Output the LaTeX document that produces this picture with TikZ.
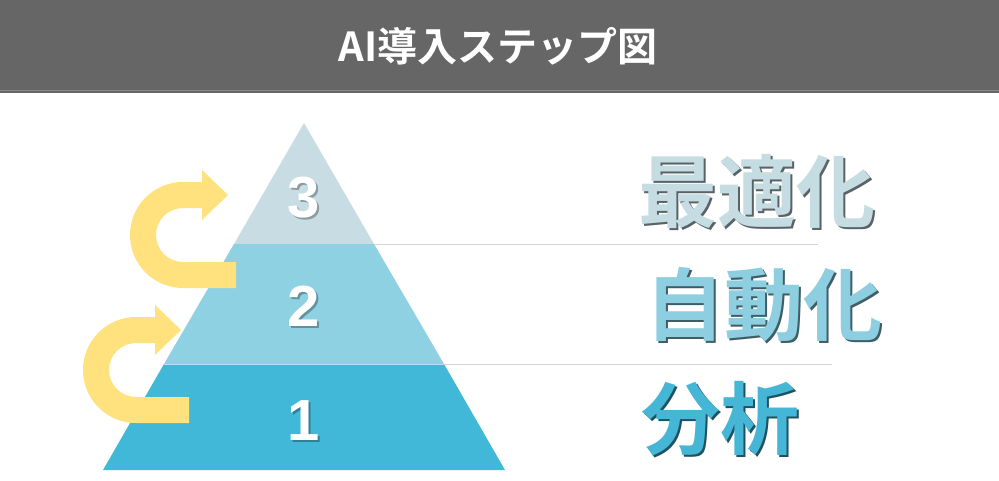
\documentclass[tikz,border=0pt]{standalone}
\usepackage{fontspec}
\setmainfont{Liberation Sans}
\newfontfamily\cjk{Noto Sans CJK JP}[BoldFont={Noto Sans CJK JP Bold}]
\definecolor{hdr}{HTML}{666666}
\definecolor{tierA}{HTML}{C8DDE3}
\definecolor{tierB}{HTML}{8DD1E3}
\definecolor{tierC}{HTML}{42B8D8}
\definecolor{lblA}{HTML}{C5DCE2}
\definecolor{lblB}{HTML}{8DCFE1}
\definecolor{lblC}{HTML}{45B6D6}
\definecolor{arrowyel}{HTML}{FFE27D}
\definecolor{sepline}{HTML}{D4D4D4}
% text with a drop shadow: #1 shadow colour, #2 text
\newcommand\shtext[2]{\makebox[0pt][l]{\hspace{2pt}\raisebox{-2pt}[0pt][0pt]{\color{#1}#2}}#2}
\begin{document}
\begin{tikzpicture}[x=1pt,y=-1pt,
  numtext/.style={text=white,font=\fontsize{58}{58}\selectfont\bfseries,inner sep=0pt},
  lbltext/.style={font=\cjk\fontsize{79}{79}\selectfont\bfseries,inner sep=0pt},
  sepstyle/.style={draw=sepline,line width=0.9pt},
  uturn/.pic={
    \fill[arrowyel] (53,53) -- (0,53) arc[start angle=90,end angle=270,radius=53]
      -- (19,-53) -- (19,-65) -- (45,-40) -- (19,-15) -- (19,-27) -- (0,-27)
      arc[start angle=270,end angle=90,radius=27] -- (53,27) -- cycle;
  }]
\useasboundingbox (0,0) rectangle (999,480);
\fill[white] (0,0) rectangle (999,480);
% header
\fill[hdr] (0,0) rectangle (999,93);
\draw[white,opacity=0.25,line width=0.8pt] (0,90) -- (999,90);
\node[text=white,font=\cjk\fontsize{40}{40}\selectfont\bfseries,inner sep=0pt] (title) at (498,46) {AI導入ステップ図};
% pyramid
\coordinate (apex) at (304,123);
\coordinate (t3l) at (234,244); \coordinate (t3r) at (374,244);
\coordinate (t2l) at (164,364); \coordinate (t2r) at (444,364);
\coordinate (bl) at (103,470); \coordinate (br) at (505,470);
\fill[tierA] (apex) -- (t3r) -- (t3l) -- cycle;
\fill[tierB] (t3l) -- (t3r) -- (t2r) -- (t2l) -- cycle;
\fill[tierC] (t2l) -- (t2r) -- (br) -- (bl) -- cycle;
\draw[white,opacity=0.6,line width=0.6pt] (t2l) -- (t2r);
% separator lines
\coordinate (s1) at (818,244);
\coordinate (s2) at (832,364);
\draw[sepstyle] (t3r) -- (s1);
\draw[sepstyle] (t2r) -- (s2);
% arrows
\pic at (183,235) {uturn};
\pic at (136,370) {uturn};
% numbers
\node[numtext] (n3) at (304,198) {\shtext{tierA!70!black}{3}};
\node[numtext] (n2) at (304,306) {\shtext{tierB!70!black}{2}};
\node[numtext] (n1) at (304,421) {\shtext{tierC!70!black}{1}};
% labels
\node[lbltext,text=lblA] (l3) at (757,191) {\shtext{lblA!45!black}{最適化}};
\node[lbltext,text=lblB] (l2) at (764,305) {\shtext{lblB!45!black}{自動化}};
\node[lbltext,text=lblC] (l1) at (720,419) {\shtext{lblC!45!black}{分析}};
\end{tikzpicture}
\end{document}
